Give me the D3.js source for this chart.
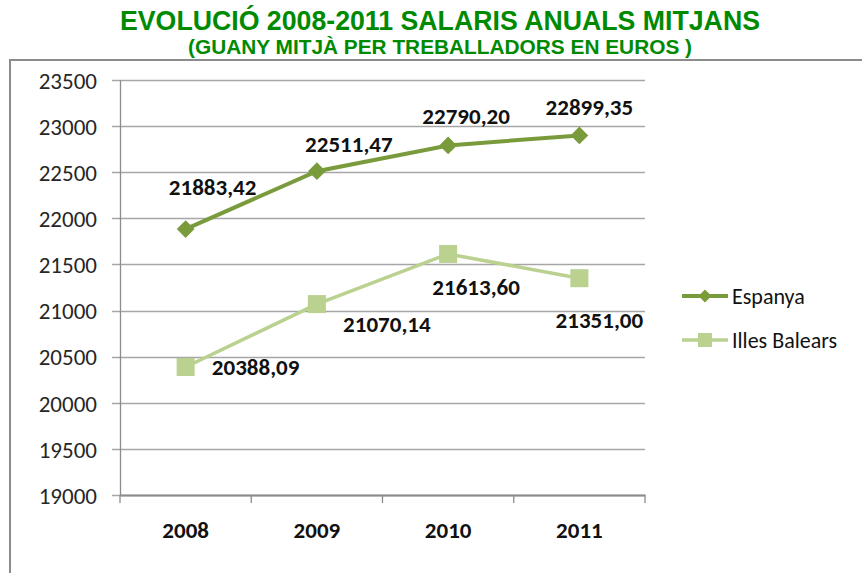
<!DOCTYPE html>
<html lang="ca">
  <head>
    <meta charset="UTF-8" />
    <title>Evolució salaris anuals mitjans</title>
    <style>
      body {
        margin: 0;
        background: #fff;
      }
      svg text {
        font-family: Carlito, Lato, "Open Sans", sans-serif;
      }
      .title {
        font-family: "Liberation Sans Narrow", "Liberation Sans", Arial, sans-serif !important;
        font-weight: bold;
        fill: #008a00;
      }
    </style>
  </head>
  <body>
    <div id="chart"></div>
    <script src="https://d3js.org/d3.v7.min.js"></script>
    <script>
      // dades
      const years = ["2008", "2009", "2010", "2011"];
      const espanya = [21883.42, 22511.47, 22790.2, 22899.35];
      const balears = [20388.09, 21070.14, 21613.6, 21351.0];
      const yTicks = [19000, 19500, 20000, 20500, 21000, 21500, 22000, 22500, 23000, 23500];
      const seriesNames = ["Espanya", "Illes Balears"];

      // desplaçament de les etiquetes (px) respecte al punt
      const espLabelOff = [[27, -34], [32, -19], [18, -21], [10, -20]];
      const balLabelOff = [[70, 8], [70, 28], [28, 41], [20, 50]];

      const width = 862,
        height = 573;
      const svg = d3
        .select("#chart")
        .append("svg")
        .attr("width", width)
        .attr("height", height);

      // marc
      svg
        .append("path")
        .attr("d", "M10,580 L10,60 L870,60")
        .attr("fill", "none")
        .attr("stroke", "#8c8c8c")
        .attr("stroke-width", 2);

      svg
        .append("text")
        .attr("class", "title")
        .attr("x", 440)
        .attr("y", 30)
        .attr("text-anchor", "middle")
        .attr("textLength", 640)
        .attr("lengthAdjust", "spacingAndGlyphs")
        .style("font-size", "27px")
        .text("EVOLUCIÓ 2008-2011 SALARIS ANUALS MITJANS");

      svg
        .append("text")
        .attr("class", "title")
        .attr("x", 440)
        .attr("y", 54)
        .attr("text-anchor", "middle")
        .attr("textLength", 504)
        .attr("lengthAdjust", "spacingAndGlyphs")
        .style("font-size", "20px")
        .text("(GUANY MITJÀ PER TREBALLADORS EN EUROS )");

      const x = d3.scaleBand().domain(years).range([120, 645]);
      const y = d3.scaleLinear().domain([19000, 23500]).range([495, 80]);
      const cx = (d) => x(d) + x.bandwidth() / 2;

      // graella
      svg
        .append("g")
        .selectAll("line")
        .data(yTicks)
        .join("line")
        .attr("x1", 112)
        .attr("x2", 645)
        .attr("y1", (d) => Math.round(y(d)) + 0.5)
        .attr("y2", (d) => Math.round(y(d)) + 0.5)
        .attr("stroke", "#a6a6a6")
        .attr("stroke-width", 1.3);

      // eix Y
      const yAxis = svg
        .append("g")
        .attr("transform", "translate(120,0)")
        .call(d3.axisLeft(y).tickValues(yTicks).tickSize(0).tickPadding(23).tickFormat((d) => d));
      yAxis.select(".domain").attr("stroke", "#8c8c8c").attr("stroke-width", 1.3);
      yAxis
        .selectAll("text")
        .style("font-size", "23px")
        .attr("fill", "#262626")
        .attr("dy", "0.36em");

      // eix X
      const xAxis = svg
        .append("g")
        .attr("transform", "translate(0,495)")
        .call(d3.axisBottom(x).tickSize(0).tickPadding(27));
      xAxis.select(".domain").attr("stroke", "#8c8c8c").attr("stroke-width", 2);
      xAxis
        .selectAll("text")
        .style("font-size", "23px")
        .style("font-weight", "bold")
        .attr("fill", "#111");
      svg
        .append("g")
        .selectAll("line")
        .data(x.domain().map((d) => x(d)).concat([x.range()[1]]))
        .join("line")
        .attr("x1", (d) => d)
        .attr("x2", (d) => d)
        .attr("y1", 495)
        .attr("y2", 503)
        .attr("stroke", "#8c8c8c")
        .attr("stroke-width", 1.3);

      const line = d3
        .line()
        .x((d, i) => cx(years[i]))
        .y((d) => y(d));

      const colEsp = "#7a9b3c",
        colBal = "#bad18f";

      // Illes Balears
      svg
        .append("path")
        .datum(balears)
        .attr("d", line)
        .attr("fill", "none")
        .attr("stroke", colBal)
        .attr("stroke-width", 3.5);
      svg
        .append("g")
        .selectAll("rect")
        .data(balears)
        .join("rect")
        .attr("x", (d, i) => cx(years[i]) - 9)
        .attr("y", (d) => y(d) - 9)
        .attr("width", 18)
        .attr("height", 18)
        .attr("fill", colBal);

      // Espanya
      svg
        .append("path")
        .datum(espanya)
        .attr("d", line)
        .attr("fill", "none")
        .attr("stroke", colEsp)
        .attr("stroke-width", 4);
      svg
        .append("g")
        .selectAll("path")
        .data(espanya)
        .join("path")
        .attr("d", d3.symbol(d3.symbolDiamond2, 200))
        .attr("transform", (d, i) => `translate(${cx(years[i])},${y(d)})`)
        .attr("fill", colEsp);

      const fmt = (v) => v.toFixed(2).replace(".", ",");

      function labels(data, off) {
        svg
          .append("g")
          .selectAll("text")
          .data(data)
          .join("text")
          .attr("x", (d, i) => cx(years[i]) + off[i][0])
          .attr("y", (d, i) => y(d) + off[i][1])
          .attr("text-anchor", "middle")
          .style("font-size", "23px")
          .style("font-weight", "bold")
          .attr("fill", "#111")
          .text(fmt);
      }
      labels(espanya, espLabelOff);
      labels(balears, balLabelOff);

      // llegenda
      const legend = svg.append("g");
      const legY = [296, 340];
      const legCol = [colEsp, colBal];
      seriesNames.forEach((name, i) => {
        const g = legend.append("g").attr("transform", `translate(682,${legY[i]})`);
        g.append("line")
          .attr("x1", 0)
          .attr("x2", 46)
          .attr("stroke", legCol[i])
          .attr("stroke-width", i === 0 ? 4 : 3.5);
        if (i === 0) {
          g.append("path")
            .attr("d", d3.symbol(d3.symbolDiamond2, 110))
            .attr("transform", "translate(23,0)")
            .attr("fill", legCol[i]);
        } else {
          g.append("rect")
            .attr("x", 16)
            .attr("y", -7)
            .attr("width", 14)
            .attr("height", 14)
            .attr("fill", legCol[i]);
        }
        g.append("text")
          .attr("x", 50)
          .attr("dy", "0.35em")
          .style("font-size", "22px")
          .attr("fill", "#111")
          .text(name);
      });
    </script>
  </body>
</html>
